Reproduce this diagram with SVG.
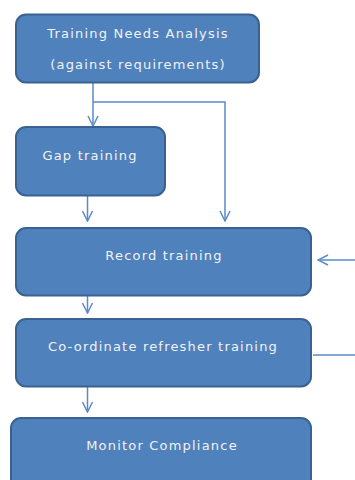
<svg xmlns="http://www.w3.org/2000/svg" width="355" height="480" viewBox="0 0 355 480">
<style>
.box{fill:#4F81BD;stroke:#3A6290;stroke-width:2}
.lbl{font-family:"DejaVu Sans",Verdana,sans-serif;font-size:13px;fill:#F2F2F2;text-anchor:middle;letter-spacing:1.2px}
.con{fill:none;stroke:#5B8BC8;stroke-width:1.5}
</style>
<defs>
<marker id="arr" markerWidth="12" markerHeight="12" viewBox="0 0 12 12" refX="11" refY="6" orient="auto" markerUnits="userSpaceOnUse">
<path d="M1,1 L11,6 L1,11" fill="none" stroke="#5B8BC8" stroke-width="1.5"/>
</marker>
</defs>
<rect width="355" height="480" fill="#FFFFFF"/>
<g id="connectors">
<path class="con" d="M93,83 V126" marker-end="url(#arr)"/>
<path class="con" d="M93,102 H225 V221" marker-end="url(#arr)"/>
<path class="con" d="M87.5,196 V221" marker-end="url(#arr)"/>
<path class="con" d="M355,260 H318" marker-end="url(#arr)"/>
<path class="con" d="M87.5,296 V313" marker-end="url(#arr)"/>
<path class="con" d="M313,355 H355"/>
<path class="con" d="M87.5,387 V412" marker-end="url(#arr)"/>
</g>
<g id="tna">
<rect class="box" x="16" y="14.5" width="243" height="68" rx="10"/>
<text class="lbl" x="138" y="38">Training Needs Analysis</text>
<text class="lbl" x="138" y="69">(against requirements)</text>
</g>
<g id="gap">
<rect class="box" x="16" y="127" width="149" height="68.5" rx="10"/>
<text class="lbl" x="90" y="160">Gap training</text>
</g>
<g id="record">
<rect class="box" x="16" y="228" width="295" height="67.5" rx="10"/>
<text class="lbl" x="164" y="260">Record training</text>
</g>
<g id="coord">
<rect class="box" x="16" y="319" width="295" height="67.5" rx="10"/>
<text class="lbl" x="163" y="351">Co-ordinate refresher training</text>
</g>
<g id="monitor">
<rect class="box" x="11" y="418" width="300" height="80" rx="10"/>
<text class="lbl" x="162" y="450">Monitor Compliance</text>
</g>
</svg>
